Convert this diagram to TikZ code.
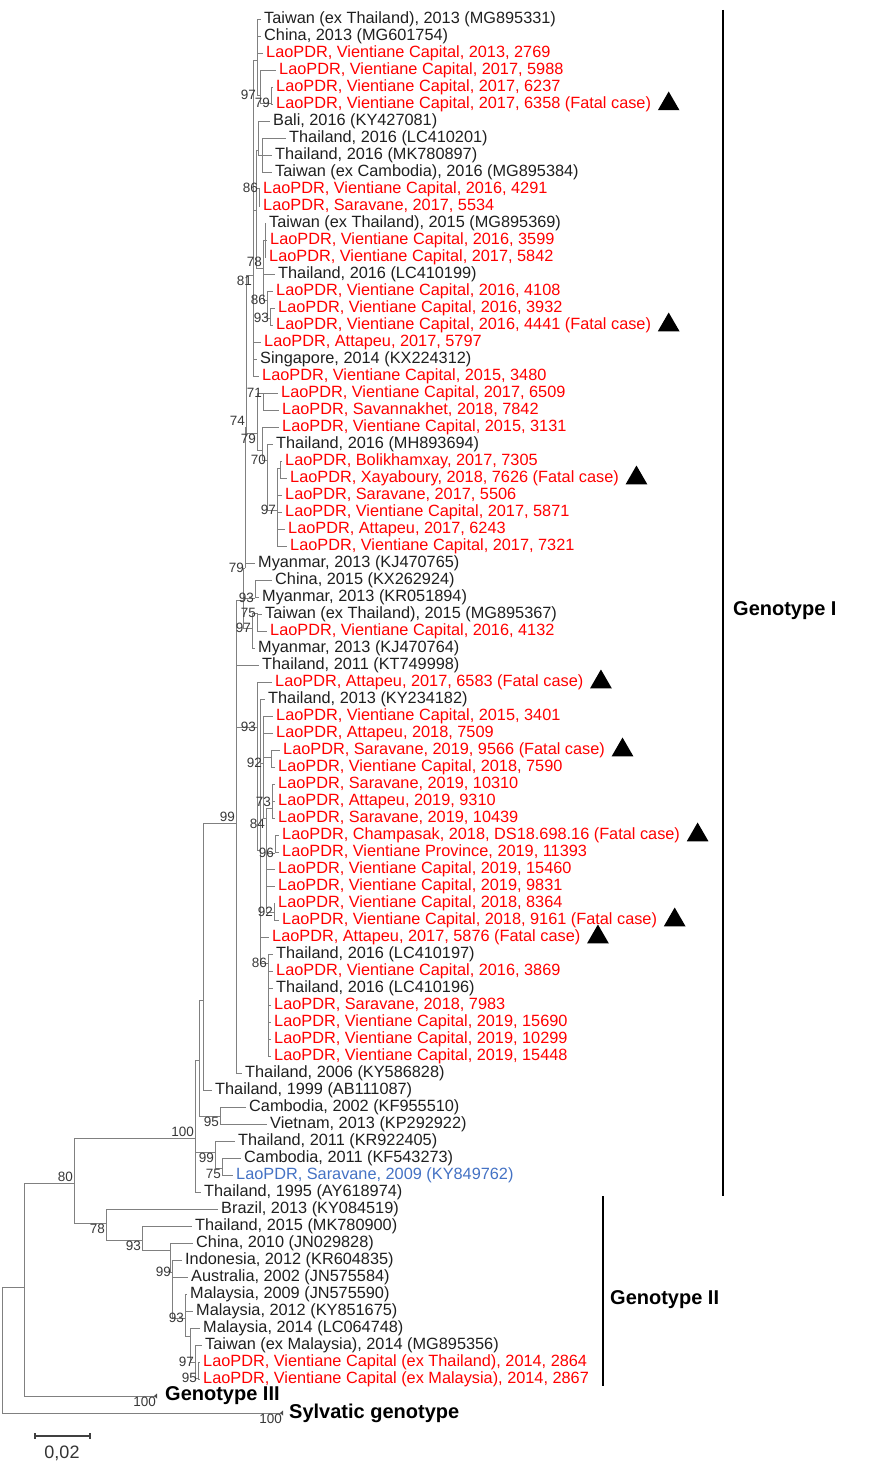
\documentclass[tikz,border=0pt]{standalone}
\usepackage{fontspec}
\setmainfont{Liberation Sans}
\usetikzlibrary{positioning,shapes.geometric}
\definecolor{laored}{RGB}{255,0,0}
\definecolor{laoblue}{RGB}{68,114,196}
\newcommand{\leaffont}{\fontsize{16.3}{17}\selectfont}
\newcommand{\bsfont}{\fontsize{13.5}{13.5}\selectfont}
\newcommand{\gtfont}{\fontsize{20}{20}\selectfont\bfseries}
\newcommand{\kids}[2]{\foreach \kd in {#2}{\draw[br] (#1) |- (\kd);}}
\tikzset{
    br/.style={draw=black!50, line width=0.7pt},
    leaf/.style={anchor=west, inner xsep=3pt, inner ysep=0pt, font=\leaffont},
    blk/.style={text=black!88},
    lao/.style={text=laored},
    blu/.style={text=laoblue},
    bs/.style={font=\bsfont, text=black!78, inner sep=1pt},
    fatal/.style={regular polygon, regular polygon sides=3, fill=black, inner sep=0pt, minimum size=25pt},
    brk/.style={line width=2.4pt},
    gtsty/.style={font=\gtfont, inner sep=0pt, anchor=west},
}

\begin{document}
\begin{tikzpicture}[x=1pt,y=-1pt]
  \useasboundingbox (0,0) rectangle (873,1471);

  \foreach \i/\x/\cl/\txt in {
    1/261/blk/{Taiwan (ex Thailand), 2013 (MG895331)},
    2/261/blk/{China, 2013 (MG601754)},
    3/263/lao/{LaoPDR, Vientiane Capital, 2013, 2769},
    4/276/lao/{LaoPDR, Vientiane Capital, 2017, 5988},
    5/273/lao/{LaoPDR, Vientiane Capital, 2017, 6237},
    6/273/lao/{LaoPDR, Vientiane Capital, 2017, 6358 (Fatal case)},
    7/270/blk/{Bali, 2016 (KY427081)},
    8/286/blk/{Thailand, 2016 (LC410201)},
    9/272/blk/{Thailand, 2016 (MK780897)},
    10/272/blk/{Taiwan (ex Cambodia), 2016 (MG895384)},
    11/260/lao/{LaoPDR, Vientiane Capital, 2016, 4291},
    12/260/lao/{LaoPDR, Saravane, 2017, 5534},
    13/266/blk/{Taiwan (ex Thailand), 2015 (MG895369)},
    14/267/lao/{LaoPDR, Vientiane Capital, 2016, 3599},
    15/266/lao/{LaoPDR, Vientiane Capital, 2017, 5842},
    16/275/blk/{Thailand, 2016 (LC410199)},
    17/273/lao/{LaoPDR, Vientiane Capital, 2016, 4108},
    18/275/lao/{LaoPDR, Vientiane Capital, 2016, 3932},
    19/273/lao/{LaoPDR, Vientiane Capital, 2016, 4441 (Fatal case)},
    20/261/lao/{LaoPDR, Attapeu, 2017, 5797},
    21/257/blk/{Singapore, 2014 (KX224312)},
    22/259/lao/{LaoPDR, Vientiane Capital, 2015, 3480},
    23/278/lao/{LaoPDR, Vientiane Capital, 2017, 6509},
    24/279/lao/{LaoPDR, Savannakhet, 2018, 7842},
    25/279/lao/{LaoPDR, Vientiane Capital, 2015, 3131},
    26/273/blk/{Thailand, 2016 (MH893694)},
    27/282/lao/{LaoPDR, Bolikhamxay, 2017, 7305},
    28/287/lao/{LaoPDR, Xayaboury, 2018, 7626 (Fatal case)},
    29/282/lao/{LaoPDR, Saravane, 2017, 5506},
    30/282/lao/{LaoPDR, Vientiane Capital, 2017, 5871},
    31/285/lao/{LaoPDR, Attapeu, 2017, 6243},
    32/287/lao/{LaoPDR, Vientiane Capital, 2017, 7321},
    33/255/blk/{Myanmar, 2013 (KJ470765)},
    34/272/blk/{China, 2015 (KX262924)},
    35/259/blk/{Myanmar, 2013 (KR051894)},
    36/262/blk/{Taiwan (ex Thailand), 2015 (MG895367)},
    37/267/lao/{LaoPDR, Vientiane Capital, 2016, 4132},
    38/255/blk/{Myanmar, 2013 (KJ470764)},
    39/259/blk/{Thailand, 2011 (KT749998)},
    40/272/lao/{LaoPDR, Attapeu, 2017, 6583 (Fatal case)},
    41/265/blk/{Thailand, 2013 (KY234182)},
    42/273/lao/{LaoPDR, Vientiane Capital, 2015, 3401},
    43/273/lao/{LaoPDR, Attapeu, 2018, 7509},
    44/280/lao/{LaoPDR, Saravane, 2019, 9566 (Fatal case)},
    45/275/lao/{LaoPDR, Vientiane Capital, 2018, 7590},
    46/275/lao/{LaoPDR, Saravane, 2019, 10310},
    47/275/lao/{LaoPDR, Attapeu, 2019, 9310},
    48/275/lao/{LaoPDR, Saravane, 2019, 10439},
    49/279/lao/{LaoPDR, Champasak, 2018, DS18.698.16 (Fatal case)},
    50/279/lao/{LaoPDR, Vientiane Province, 2019, 11393},
    51/275/lao/{LaoPDR, Vientiane Capital, 2019, 15460},
    52/275/lao/{LaoPDR, Vientiane Capital, 2019, 9831},
    53/275/lao/{LaoPDR, Vientiane Capital, 2018, 8364},
    54/279/lao/{LaoPDR, Vientiane Capital, 2018, 9161 (Fatal case)},
    55/269/lao/{LaoPDR, Attapeu, 2017, 5876 (Fatal case)},
    56/273/blk/{Thailand, 2016 (LC410197)},
    57/273/lao/{LaoPDR, Vientiane Capital, 2016, 3869},
    58/273/blk/{Thailand, 2016 (LC410196)},
    59/271/lao/{LaoPDR, Saravane, 2018, 7983},
    60/271/lao/{LaoPDR, Vientiane Capital, 2019, 15690},
    61/271/lao/{LaoPDR, Vientiane Capital, 2019, 10299},
    62/271/lao/{LaoPDR, Vientiane Capital, 2019, 15448},
    63/242/blk/{Thailand, 2006 (KY586828)},
    64/212/blk/{Thailand, 1999 (AB111087)},
    65/246/blk/{Cambodia, 2002 (KF955510)},
    66/267/blk/{Vietnam, 2013 (KP292922)},
    67/235/blk/{Thailand, 2011 (KR922405)},
    68/241/blk/{Cambodia, 2011 (KF543273)},
    69/233/blu/{LaoPDR, Saravane, 2009 (KY849762)},
    70/201/blk/{Thailand, 1995 (AY618974)},
    71/218/blk/{Brazil, 2013 (KY084519)},
    72/192/blk/{Thailand, 2015 (MK780900)},
    73/193/blk/{China, 2010 (JN029828)},
    74/182/blk/{Indonesia, 2012 (KR604835)},
    75/188/blk/{Australia, 2002 (JN575584)},
    76/187/blk/{Malaysia, 2009 (JN575590)},
    77/193/blk/{Malaysia, 2012 (KY851675)},
    78/200/blk/{Malaysia, 2014 (LC064748)},
    79/202/blk/{Taiwan (ex Malaysia), 2014 (MG895356)},
    80/200/lao/{LaoPDR, Vientiane Capital (ex Thailand), 2014, 2864},
    81/200/lao/{LaoPDR, Vientiane Capital (ex Malaysia), 2014, 2867}}
  {\node[leaf,\cl] (l\i) at (\x,{19+17*(\i-1)}) {\txt};}

  \node[leaf, gtsty, inner xsep=8pt] (lG3) at (157,1396) {Genotype III};
  \node[leaf, gtsty, inner xsep=6pt] (lSy) at (283,1413) {Sylvatic genotype};

  % internal nodes
  \coordinate (nA) at (257,60);
  \coordinate (n97a) at (260,95);
  \coordinate (n79a) at (271,103);
  \coordinate (nB) at (258,150);
  \coordinate (nC) at (262,155);
  \coordinate (n86a) at (259,188);
  \coordinate (nD) at (265,240);
  \coordinate (n78a) at (263,268);
  \coordinate (n86b) at (267,300);
  \coordinate (n93a) at (270,318);
  \coordinate (nF) at (256,210);
  \coordinate (n81) at (253,275);
  \coordinate (n71) at (263,393);
  \coordinate (nH) at (280,468);
  \coordinate (n97b) at (277,510);
  \coordinate (n70) at (267,460);
  \coordinate (nG) at (262,450);
  \coordinate (n79b) at (257,433);
  \coordinate (n74) at (246,427);
  \coordinate (n79c) at (245,568);
  \coordinate (n93b) at (255,598);
  \coordinate (n75a) at (257,613);
  \coordinate (n97c) at (252,628);
  \coordinate (nM) at (243,600);
  \coordinate (n99a) at (236,823);
  \coordinate (n93c) at (257,727);
  \coordinate (nN) at (260,850);
  \coordinate (n92a) at (263,763);
  \coordinate (nO) at (271,757);
  \coordinate (n84) at (266,818);
  \coordinate (n73) at (272,808);
  \coordinate (n96) at (275,853);
  \coordinate (n92b) at (274,912);
  \coordinate (n86c) at (268,963);
  \coordinate (nB2) at (203,1000);
  \coordinate (n95a) at (220,1116);
  \coordinate (nA2) at (199,1060);
  \coordinate (n75b) at (222,1168);
  \coordinate (n99b) at (215,1152);
  \coordinate (n100) at (195,1138);
  \coordinate (n93e) at (185,1318);
  \coordinate (nT) at (190,1336);
  \coordinate (n97d) at (195,1362);
  \coordinate (n95b) at (198,1378);
  \coordinate (n99c) at (172,1272);
  \coordinate (nS) at (170,1250);
  \coordinate (n93d) at (142,1240);
  \coordinate (n78b) at (106,1223);
  \coordinate (n80) at (74,1183);
  \coordinate (nR) at (24,1287);
  \coordinate (n0) at (2,1350);

  \kids{nA}{l1,l2,l3,n97a}
  \kids{n97a}{l4,n79a}
  \kids{n79a}{l5,l6}
  \kids{nB}{l7,nC}
  \kids{nC}{l8,l9,l10}
  \kids{n86a}{l11,l12}
  \kids{nD}{l13,l14,l15}
  \kids{n78a}{nD,l16,n86b}
  \kids{n86b}{l17,n93a}
  \kids{n93a}{l18,l19}
  \kids{nF}{nB,n86a,n78a}
  \kids{n81}{nA,nF,l20,l21,l22}
  \kids{n71}{l23,l24}
  \kids{nH}{l27,l28}
  \kids{n97b}{nH,l29,l30,l31,l32}
  \kids{n70}{l26,n97b}
  \kids{nG}{l25,n70}
  \kids{n79b}{n71,nG}
  \kids{n74}{n81,n79b}
  \kids{n79c}{n74,l33}
  \kids{n93b}{l34,l35}
  \kids{n75a}{l36,l37}
  \kids{n97c}{n75a,l38}
  \kids{nM}{n79c,n93b,n97c}
  \kids{n99a}{nM,l39,n93c,l63}
  \kids{n93c}{l40,nN}
  \kids{nN}{l41,n92a,l55,n86c}
  \kids{n92a}{l42,l43,nO,n84}
  \kids{nO}{l44,l45}
  \kids{n84}{n73,n96,l51,l52,n92b}
  \kids{n73}{l46,l47,l48}
  \kids{n96}{l49,l50}
  \kids{n92b}{l53,l54}
  \kids{n86c}{l56,l57,l58,l59,l60,l61,l62}
  \kids{nB2}{n99a,l64}
  \kids{n95a}{l65,l66}
  \kids{nA2}{nB2,n95a}
  \kids{n75b}{l68,l69}
  \kids{n99b}{l67,n75b}
  \kids{n100}{nA2,n99b,l70}
  \kids{n95b}{l80,l81}
  \kids{n97d}{l79,n95b}
  \kids{nT}{l78,n97d}
  \kids{n93e}{l76,l77,nT}
  \kids{n99c}{l74,l75,n93e}
  \kids{nS}{l73,n99c}
  \kids{n93d}{l72,nS}
  \kids{n78b}{l71,n93d}
  \kids{n80}{n100,n78b}
  \kids{nR}{n80,lG3}
  \kids{n0}{nR,lSy}

  \fill[black!70] ([xshift=-3pt]lG3.west) -- ++(3,-2.5) -- ++(0,5) -- cycle;
  \fill[black!70] ([xshift=-3pt]lSy.west) -- ++(3,-2.5) -- ++(0,5) -- cycle;

  % bootstrap values
  \node[bs, anchor=east, xshift=-3pt] (b1) at (n97a) {97};
  \node[bs, anchor=east] (b2) at (n79a) {79};
  \node[bs, anchor=east] (b3) at (n86a) {86};
  \node[bs, anchor=south east] (b4) at (n78a) {78};
  \node[bs, anchor=north east] (b5) at (n81) {81};
  \node[bs, anchor=east] (b6) at (n86b) {86};
  \node[bs, anchor=east] (b7) at (n93a) {93};
  \node[bs, anchor=east] (b8) at (n71) {71};
  \node[bs, anchor=south east] (b9) at (n74) {74};
  \node[bs, anchor=north east] (b10) at (n79b) {79};
  \node[bs, anchor=east] (b11) at (n70) {70};
  \node[bs, anchor=east] (b12) at (n97b) {97};
  \node[bs, anchor=east] (b13) at (n79c) {79};
  \node[bs, anchor=east] (b14) at (n93b) {93};
  \node[bs, anchor=east] (b15) at (n75a) {75};
  \node[bs, anchor=east] (b16) at (n97c) {97};
  \node[bs, anchor=south east] (b17) at (n99a) {99};
  \node[bs, anchor=east] (b18) at (n93c) {93};
  \node[bs, anchor=east] (b19) at (n92a) {92};
  \node[bs, anchor=north east] (b20) at (n84) {84};
  \node[bs, anchor=south east] (b21) at (n73) {73};
  \node[bs, anchor=east] (b22) at (n96) {96};
  \node[bs, anchor=east] (b23) at (n92b) {92};
  \node[bs, anchor=east] (b24) at (n86c) {86};
  \node[bs, anchor=north east] (b25) at (n95a) {95};
  \node[bs, anchor=north east] (b26) at (n99b) {99};
  \node[bs, anchor=north east] (b27) at (n75b) {75};
  \node[bs, anchor=south east] (b28) at (n100) {100};
  \node[bs, anchor=south east] (b29) at (n80) {80};
  \node[bs, anchor=north east] (b30) at (n78b) {78};
  \node[bs, anchor=north east] (b31) at (n93d) {93};
  \node[bs, anchor=east] (b32) at (n99c) {99};
  \node[bs, anchor=east] (b33) at (n93e) {93};
  \node[bs, anchor=east] (b34) at (n97d) {97};
  \node[bs, anchor=east] (b35) at (n95b) {95};
  \node[bs, anchor=north east] (b36) at (lG3.west) {100};
  \node[bs, anchor=north east] (b37) at (lSy.west) {100};

  \foreach \i in {6,19,28,40,44,49,54,55}
    {\node[fatal, right=7pt of l\i] (f\i) {};}

  % genotype brackets
  \coordinate (g1t) at (723,10);
  \coordinate (g1b) at (723,1196);
  \coordinate (g2t) at (603,1196);
  \coordinate (g2b) at (603,1386);
  \draw[brk] (g1t) -- (g1b) node[gtsty, pos=0.506, xshift=9pt] (gI) {Genotype I};
  \draw[brk] (g2t) -- (g2b) node[gtsty, pos=0.547, xshift=6pt] (gII) {Genotype II};

  % scale bar
  \coordinate (sbl) at (35,1436);
  \coordinate (sbr) at (90,1436);
  \draw[black!75, line width=1.2pt] (sbl) -- (sbr) (sbl) ++(0,-3) -- ++(0,6) (sbr) ++(0,-3) -- ++(0,6);
  \node[font=\fontsize{18}{18}\selectfont, text=black!80] (sbt) at (62,1453) {0,02};
\end{tikzpicture}
\end{document}
